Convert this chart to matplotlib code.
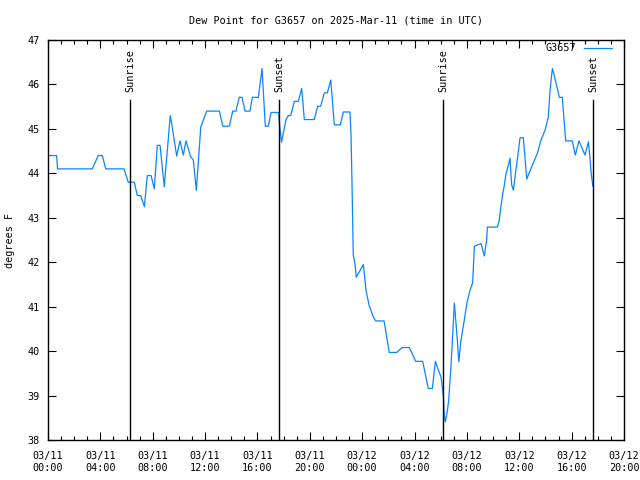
import matplotlib
matplotlib.use("Agg")
import matplotlib.pyplot as plt
from matplotlib.ticker import MultipleLocator

title = "Dew Point for G3657 on 2025-Mar-11 (time in UTC)"
series_name = "G3657"
ylabel = "degrees F"

# hours since 2025-03-11 00:00 UTC
hours = [0, 0.66, 0.73, 3.38, 3.84, 4.15, 4.41, 5.81, 6.13, 6.59, 6.82, 7.08, 7.36, 7.59,
         7.87, 8.12, 8.35, 8.56, 8.88, 9.34, 9.43, 9.83, 10.08, 10.34, 10.54, 10.90, 11.10,
         11.33, 11.67, 12.12, 13.09, 13.35, 13.85, 14.11, 14.36, 14.61, 14.82, 15.05, 15.43,
         15.61, 16.07, 16.35, 16.60, 16.83, 17.04, 17.62, 17.70, 17.84, 18.18, 18.36, 18.54,
         18.82, 19.12, 19.38, 19.58, 20.34, 20.60, 20.83, 21.11, 21.34, 21.60, 21.87, 22.33,
         22.56, 23.07, 23.15, 23.22, 23.32, 23.45, 23.55, 24.09, 24.29, 24.52, 24.85, 25.03,
         25.67, 26.07, 26.64, 26.81, 27.07, 27.60, 28.09, 28.62, 29.05, 29.36, 29.59, 29.82,
         30.02, 30.20, 30.27, 30.35, 30.50, 30.61, 30.79, 31.04, 31.27, 31.38, 31.55, 31.78,
         32.01, 32.24, 32.44, 32.57, 33.08, 33.33, 33.51, 33.56, 34.32, 34.45, 34.55, 34.74,
         34.84, 34.99, 35.20, 35.29, 35.42, 35.55, 35.73, 35.88, 36.06, 36.31, 36.57, 36.95,
         37.38, 37.66, 37.97, 38.22, 38.35, 38.53, 38.63, 38.81, 39.06, 39.29, 39.42, 39.55,
         40.05, 40.28, 40.56, 41.02, 41.28, 41.39, 41.47, 41.62]
dewpoint = [44.4, 44.4, 44.1, 44.1, 44.4, 44.4, 44.1, 44.1, 43.8, 43.8, 43.5, 43.5, 43.25, 43.95,
            43.95, 43.65, 44.63, 44.63, 43.7, 45.3, 45.15, 44.39, 44.73, 44.41, 44.73, 44.37, 44.3,
            43.62, 45.04, 45.4, 45.4, 45.06, 45.06, 45.4, 45.4, 45.71, 45.71, 45.4, 45.4,
            45.71, 45.71, 46.36, 45.06, 45.06, 45.37, 45.37, 45.05, 44.7, 45.21, 45.3, 45.3,
            45.62, 45.62, 45.91, 45.21, 45.21, 45.51, 45.51, 45.81, 45.81, 46.1, 45.09, 45.09,
            45.38, 45.38, 44.84, 43.81, 42.16, 41.96, 41.66, 41.95, 41.37, 41.04, 40.77, 40.68,
            40.68, 39.97, 39.97, 40.02, 40.08, 40.08, 39.77, 39.77, 39.16, 39.16, 39.77, 39.57,
            39.42, 39.0, 38.56, 38.41, 38.64, 38.9, 39.69, 41.08, 40.25, 39.76, 40.25, 40.66,
            41.1, 41.37, 41.54, 42.36, 42.42, 42.14, 42.5, 42.79, 42.79, 42.91, 43.14, 43.55,
            43.7, 44.0, 44.22, 44.34, 43.74, 43.62, 44.04, 44.37, 44.8, 44.8, 43.87, 44.15,
            44.45, 44.75, 44.97, 45.27, 45.87, 46.36, 46.25, 46.03, 45.71, 45.71, 45.2, 44.73,
            44.73, 44.41, 44.73, 44.41, 44.71, 44.37, 44.07, 43.71]

event_names = ["Sunrise", "Sunset", "Sunrise", "Sunset"]
event_hours = [6.26, 17.65, 30.2, 41.67]

tick_hours = [0, 4, 8, 12, 16, 20, 24, 28, 32, 36, 40, 44]
tick_labels = ["03/11\n00:00", "03/11\n04:00", "03/11\n08:00", "03/11\n12:00",
               "03/11\n16:00", "03/11\n20:00", "03/12\n00:00", "03/12\n04:00",
               "03/12\n08:00", "03/12\n12:00", "03/12\n16:00", "03/12\n20:00"]

FS = 7.3
plt.rcParams['font.family'] = ['DejaVu Sans Mono']
plt.rcParams['font.size'] = FS

fig = plt.figure(figsize=(6.4, 4.8), dpi=100)
ax = fig.add_axes([48/640, 1-440/480, 576/640, 400/480])

line_color = '#0a84ff'
ax.plot(hours, dewpoint, color=line_color, lw=0.9)

ax.set_xlim(0, 44)
ax.set_ylim(38, 47)
ax.set_xticks(tick_hours)
ax.set_xticklabels(tick_labels, fontsize=FS, linespacing=1.25)
ax.xaxis.set_minor_locator(MultipleLocator(1))
ax.yaxis.set_major_locator(MultipleLocator(1))
ax.tick_params(which='both', direction='in', top=True, right=True, width=0.8, colors='black')
ax.tick_params(which='major', length=6)
ax.tick_params(which='minor', length=3)
ax.tick_params(axis='x', pad=8)
ax.tick_params(axis='y', pad=6)
for s in ax.spines.values():
    s.set_linewidth(1.0)

for name, h in zip(event_names, event_hours):
    ax.plot([h, h], [38, 45.65], color='black', lw=1.0)
    ax.text(h, 45.83, name, rotation=90, ha='center', va='bottom', fontsize=FS)

ax.set_title(title, fontsize=FS, pad=12)
ax.set_ylabel(ylabel, fontsize=FS, labelpad=9)

# legend
ax.text((576-48)/576, 0.98, series_name, transform=ax.transAxes, ha='right', va='center', fontsize=FS)
ax.plot([(584-48)/576, (612-48)/576], [0.98, 0.98], transform=ax.transAxes, color=line_color, lw=0.9)

fig.savefig("out.png", dpi=100)
